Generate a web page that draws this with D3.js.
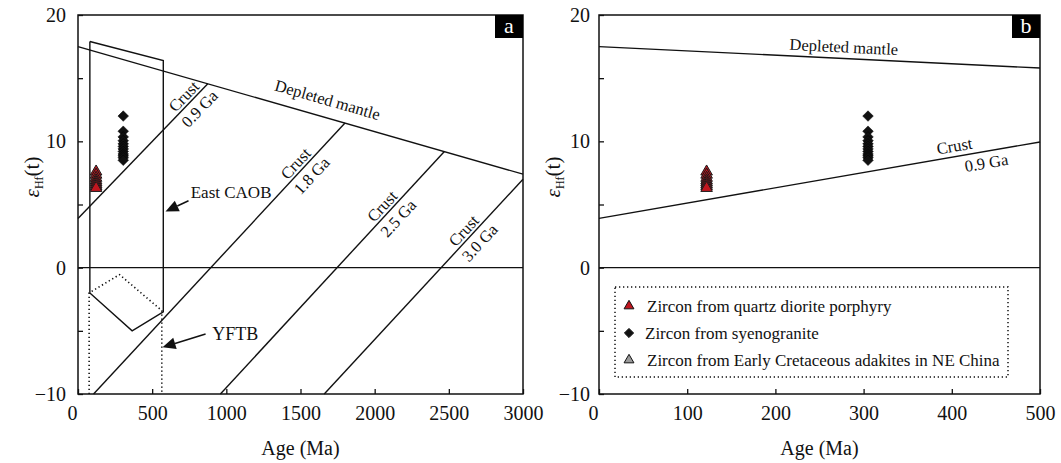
<!DOCTYPE html>
<html><head><meta charset="utf-8">
<script src="https://cdn.jsdelivr.net/npm/d3@7"></script>
<style>
body{margin:0;background:#fff;}
svg{display:block;font-family:"Liberation Serif","Times New Roman",serif;}
</style></head><body>
<svg id="chart" width="1061" height="463"></svg>
<script>
// ---- data: ages in Ma, values in epsilon-Hf units ----
const depletedMantleA = [[0, 17.5], [3000, 7.4]];
const crustLinesA = [
  {name: "0.9 Ga", pts: [[0, 3.9], [875, 14.55]], labelAge: 755},
  {name: "1.8 Ga", pts: [[105, -10], [1800, 11.45]], labelAge: 1510},
  {name: "2.5 Ga", pts: [[960, -10], [2470, 9.2]], labelAge: 2093},
  {name: "3.0 Ga", pts: [[1660, -10], [3000, 7.0]], labelAge: 2643}
];
const depletedMantleB = [[0, 17.5], [500, 15.8]];
const crustLineB = [[0, 3.9], [500, 9.95]];
const eastCAOB = [[80, 17.9], [575, 16.4], [575, -3.5], [365, -5.0], [80, -2.0], [80, 17.9]];
const yftb = [[75, -10], [75, -2.0], [280, -0.55], [565, -3.4], [565, -10]];

const porphyryAge = 122;
const porphyryEHf = [7.6, 7.35, 7.1, 6.9, 6.75, 6.6, 6.45, 6.3];
const syenograniteAge = 305;
const syenograniteEHf = [12.0, 10.8, 10.35, 10.05, 9.8, 9.6, 9.4, 9.2, 9.0, 8.85, 8.7, 8.5];

const yTicks = [-10, -5, 0, 5, 10, 15, 20];
const xTicksA = [0, 500, 1000, 1500, 2000, 2500, 3000];
const xTicksB = [0, 100, 200, 300, 400, 500];

const legendItems = [
  {label: "Zircon from quartz diorite porphyry", shape: "tri", fill: "#c0161f"},
  {label: "Zircon from syenogranite", shape: "dia", fill: "#111"},
  {label: "Zircon from Early Cretaceous adakites in NE China", shape: "tri", fill: "#9a9a9a"}
];

// ---- layout ----
const svg = d3.select("#chart");
const plotTop = 15, plotBottom = 394;
const y = d3.scaleLinear().domain([-10, 20]).range([plotBottom, plotTop]);
const xA = d3.scaleLinear().domain([0, 3000]).range([78, 523]);
const xB = d3.scaleLinear().domain([0, 500]).range([599, 1040]);
const ink = "#111";
const line = (x) => d3.line().x(d => x(d[0])).y(d => y(d[1]));

const tri = d3.symbol(d3.symbolTriangle, 58)();
const triSmall = d3.symbol(d3.symbolTriangle, 42)();
const dia = (s) => `M0,${-s}L${s},0L0,${s}L${-s},0Z`;

function fmtY(d) {
  if (d % 10 !== 0) return "";
  return d < 0 ? "\u2212" + Math.abs(d) : String(d);
}

function drawAxes(x, xTicks, pad) {
  const [l, r] = x.range();
  const gx = svg.append("g").attr("transform", `translate(0,${plotBottom})`)
    .call(d3.axisBottom(x).tickValues(xTicks).tickSize(-5).tickPadding(12).tickFormat(d3.format("d")));
  const gy = svg.append("g").attr("transform", `translate(${l},0)`)
    .call(d3.axisLeft(y).tickValues(yTicks).tickSize(-5).tickPadding(pad).tickFormat(fmtY));
  [gx, gy].forEach(g => {
    g.select(".domain").remove();
    g.selectAll(".tick line").attr("stroke", ink).attr("stroke-width", 1.3);
    g.selectAll(".tick text").attr("fill", ink).attr("font-size", 20)
      .attr("font-family", "Liberation Serif, serif");
  });
  gx.selectAll(".tick text").filter(d => d === 0).attr("dx", -6);
  // frame
  svg.append("rect").attr("x", l).attr("y", plotTop).attr("width", r - l).attr("height", plotBottom - plotTop)
    .attr("fill", "none").attr("stroke", ink).attr("stroke-width", 1.5);
  // zero line
  svg.append("line").attr("x1", l).attr("x2", r).attr("y1", y(0)).attr("y2", y(0))
    .attr("stroke", ink).attr("stroke-width", 1.3);
  // axis titles
  svg.append("text").attr("x", (l + r) / 2).attr("y", 455).attr("text-anchor", "middle")
    .attr("font-size", 20).attr("fill", ink).text("Age (Ma)");
  const yl = svg.append("text").attr("transform", `translate(${l - 39},177) rotate(-90)`)
    .attr("text-anchor", "middle").attr("font-size", 21).attr("fill", ink);
  yl.append("tspan").attr("font-style", "italic").text("\u03b5");
  yl.append("tspan").attr("font-size", 12).attr("dy", 4).text("Hf");
  yl.append("tspan").attr("dy", -4).text("(t)");
}

function panelTag(x, t) {
  const r = x.range()[1];
  svg.append("rect").attr("x", r - 28).attr("y", plotTop).attr("width", 28).attr("height", 23).attr("fill", "#000");
  svg.append("text").attr("x", r - 14).attr("y", plotTop + 18).attr("text-anchor", "middle")
    .attr("font-size", 22).attr("fill", "#fff").text(t);
}

function segLabel(x, seg, age, text, off, size, shift) {
  const [p0, p1] = [seg[0], seg[seg.length - 1]];
  const ang = Math.atan2(y(p1[1]) - y(p0[1]), x(p1[0]) - x(p0[0])) * 180 / Math.PI;
  const t = (age - p0[0]) / (p1[0] - p0[0]);
  const v = p0[1] + t * (p1[1] - p0[1]);
  svg.append("text").attr("transform", `translate(${x(age)},${y(v)}) rotate(${ang})`)
    .attr("x", shift || 0).attr("y", off).attr("text-anchor", "middle")
    .attr("font-size", size).attr("fill", ink).text(text);
}

function arrow(x, from, to, head) {
  const x0 = x(from[0]), y0 = y(from[1]), x1 = x(to[0]), y1 = y(to[1]);
  const a = Math.atan2(y1 - y0, x1 - x0);
  const bx = x1 - head * Math.cos(a), by = y1 - head * Math.sin(a);
  svg.append("line").attr("x1", x0).attr("y1", y0).attr("x2", bx).attr("y2", by)
    .attr("stroke", ink).attr("stroke-width", 1.5);
  const w = head * 0.45, nx = -Math.sin(a) * w, ny = Math.cos(a) * w;
  svg.append("path").attr("d", `M${x1},${y1}L${bx + nx},${by + ny}L${bx - nx},${by - ny}Z`).attr("fill", ink);
}

function drawPoints(x) {
  syenograniteEHf.forEach(v => {
    svg.append("path").attr("d", dia(5.3)).attr("transform", `translate(${x(syenograniteAge)},${y(v)})`)
      .attr("fill", "#111").attr("stroke", "#000").attr("stroke-width", 0.5);
  });
  porphyryEHf.forEach(v => {
    svg.append("path").attr("d", tri).attr("transform", `translate(${x(porphyryAge)},${y(v)})`)
      .attr("fill", "#c0161f").attr("stroke", "#1a1a1a").attr("stroke-width", 1);
  });
}

// ---- panel a ----
drawAxes(xA, xTicksA, 12);
svg.append("path").datum(depletedMantleA).attr("d", line(xA)).attr("fill", "none").attr("stroke", ink).attr("stroke-width", 1.4);
crustLinesA.forEach(c => {
  svg.append("path").datum(c.pts).attr("d", line(xA)).attr("fill", "none").attr("stroke", ink).attr("stroke-width", 1.4);
  segLabel(xA, c.pts, c.labelAge, "Crust", -3, 16.5, 0);
  segLabel(xA, c.pts, c.labelAge, c.name, 17, 16.5, 2);
});
segLabel(xA, depletedMantleA, 1650, "Depleted mantle", -12, 16.5, 0);
svg.append("path").datum(eastCAOB).attr("d", line(xA)).attr("fill", "none").attr("stroke", ink).attr("stroke-width", 1.4);
svg.append("path").datum(yftb).attr("d", line(xA)).attr("fill", "none").attr("stroke", ink)
  .attr("stroke-width", 1.6).attr("stroke-dasharray", "1.3,2.7");
arrow(xA, [745, 5.3], [590, 4.45], 13);
svg.append("text").attr("x", xA(760)).attr("y", y(5.5)).attr("font-size", 17).attr("fill", ink).text("East CAOB");
arrow(xA, [860, -5.25], [570, -6.3], 13);
svg.append("text").attr("x", xA(905)).attr("y", y(-5.75)).attr("font-size", 18).attr("fill", ink).text("YFTB");
drawPoints(xA);
panelTag(xA, "a");

// ---- panel b ----
drawAxes(xB, xTicksB, 9);
svg.append("path").datum(depletedMantleB).attr("d", line(xB)).attr("fill", "none").attr("stroke", ink).attr("stroke-width", 1.4);
svg.append("path").datum(crustLineB).attr("d", line(xB)).attr("fill", "none").attr("stroke", ink).attr("stroke-width", 1.4);
segLabel(xB, depletedMantleB, 277, "Depleted mantle", -6, 16.5, 0);
segLabel(xB, crustLineB, 405, "Crust", -5, 16.5, 0);
segLabel(xB, crustLineB, 437, "0.9 Ga", 17, 16.5, 0);
drawPoints(xB);
panelTag(xB, "b");

// legend
const lg = svg.append("g");
lg.append("rect").attr("x", 615).attr("y", 287).attr("width", 393).attr("height", 90)
  .attr("fill", "none").attr("stroke", ink).attr("stroke-width", 1.5).attr("stroke-dasharray", "1.3,2.7");
legendItems.forEach((d, i) => {
  const cy = 306 + i * 27;
  lg.append("path").attr("d", d.shape === "tri" ? triSmall : dia(4.6))
    .attr("transform", `translate(629,${cy})`).attr("fill", d.fill).attr("stroke", "#111").attr("stroke-width", 1);
  lg.append("text").attr("x", i === 1 ? 645 : 647).attr("y", cy + 6).attr("font-size", 17).attr("fill", ink).text(d.label);
});
</script>
</body></html>
